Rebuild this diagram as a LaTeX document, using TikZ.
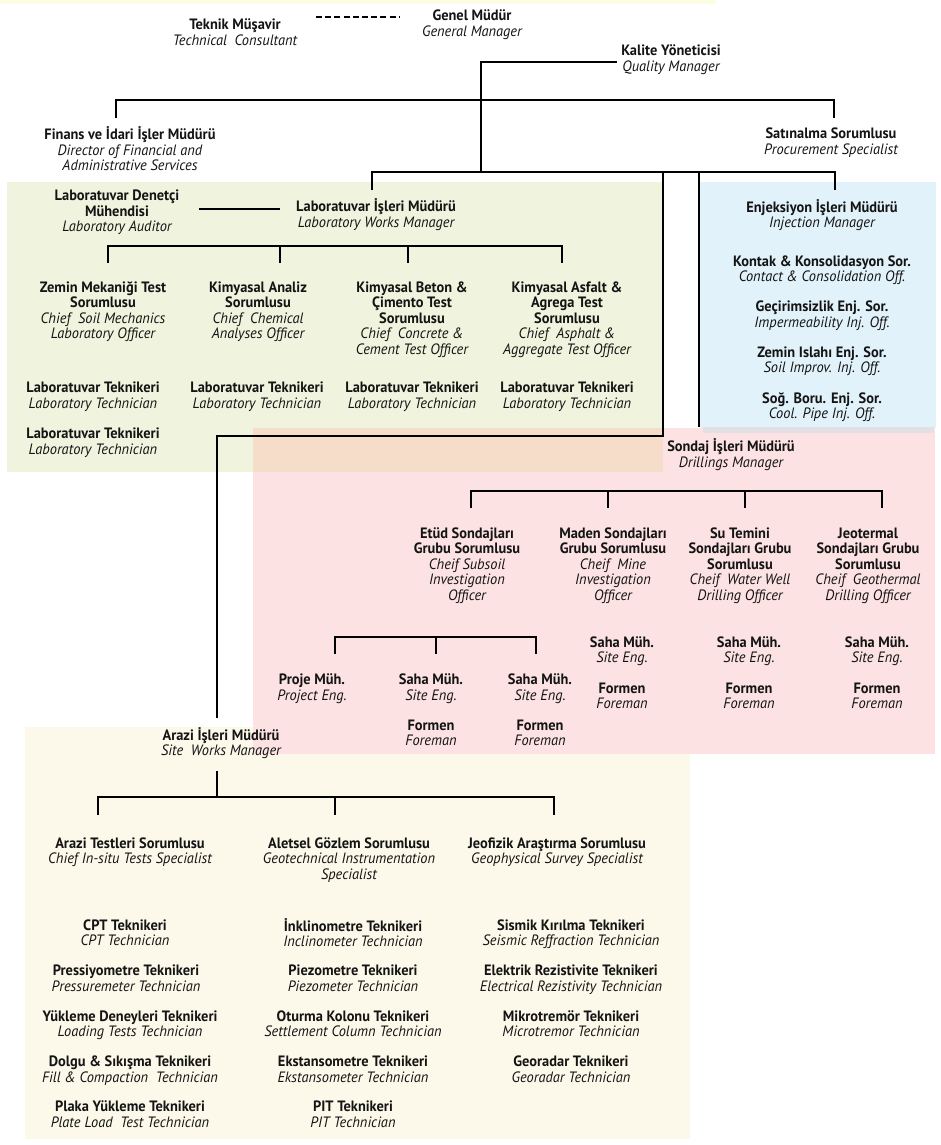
\documentclass[tikz,border=0pt]{standalone}
\usepackage{fontspec}
\setmainfont{PT Sans}[FakeStretch=0.96]
\definecolor{bgG}{RGB}{240,244,222}
\definecolor{bgB}{RGB}{226,242,250}
\definecolor{bgP}{RGB}{252,226,226}
\definecolor{bgO}{RGB}{246,221,202}
\definecolor{bgY}{RGB}{252,249,234}
\definecolor{bgT}{RGB}{253,252,228}
\definecolor{bgS}{RGB}{226,224,228}
\definecolor{ink}{RGB}{20,20,20}
\newcommand\trb{\bfseries\upshape}
\newcommand\eni{\mdseries\itshape}
\newcommand\topst{\rule{0pt}{21pt}}
\newcommand\botst{\rule[-4pt]{0pt}{4pt}}
\begin{document}
\begin{tikzpicture}[x=1pt,y=-1pt,
  role/.style={align=center,inner sep=0pt,text=ink,
    font=\fontsize{15}{15.5}\selectfont,
    execute at begin node=\topst, execute at end node=\botst},
  conn/.style={line width=2.4pt,draw=black},
  dashconn/.style={line width=2.2pt,draw=black,dash pattern=on 6pt off 3.2pt}]
\useasboundingbox (0,0) rectangle (940,1145);
% backgrounds
\fill[bgT] (0,0) rectangle (716,4);
\fill[bgG] (7,182) rectangle (663,472);
\fill[bgB] (700,182) rectangle (936,428);
\fill[bgY] (25,727) rectangle (690,1139);
\fill[bgP] (253,428) rectangle (935,754);
\fill[bgO] (253,428) rectangle (663,472);
\fill[bgS] (703,427) rectangle (934,433);

% top
\node[role] (tm) at (235,34) {\trb Teknik Müşavir\\\eni Technical\ \ Consultant};
\node[role] (gm) at (472,25) {\trb Genel Müdür\\\eni General Manager};
\node[role] (km) at (671,60) {\trb Kalite Yöneticisi\\\eni Quality Manager};
\node[role] (fin) at (130,151) {\trb Finans ve İdari İşler Müdürü\\\eni Director of Financial and\\\eni Administrative Services};
\node[role] (sat) at (831,143) {\trb Satınalma Sorumlusu\\\eni Procurement Specialist};

% laboratory
\node[role] (lad) at (117,213) {\trb Laboratuvar Denetçi\\\trb Mühendisi\\\eni Laboratory Auditor};
\node[role] (lim) at (376,215) {\trb Laboratuvar İşleri Müdürü\\\eni Laboratory Works Manager};
\node[role] (l1) at (103,312) {\trb Zemin Mekaniği Test\\\trb Sorumlusu\\\eni Chief\ \ Soil Mechanics\\\eni Laboratory Officer};
\node[role] (l2) at (258,312) {\trb Kimyasal Analiz\\\trb Sorumlusu\\\eni Chief\ \ Chemical\\\eni Analyses Officer};
\node[role] (l3) at (412,320) {\trb Kimyasal Beton \&\\\trb Çimento Test\\\trb Sorumlusu\\\eni Chief\ \ Concrete \&\\\eni Cement Test Officer};
\node[role] (l4) at (567,320) {\trb Kimyasal Asfalt \&\\\trb Agrega Test\\\trb Sorumlusu\\\eni Chief\ \ Asphalt \&\\\eni Aggregate Test Officer};
\node[role] (t1) at (93,397) {\trb Laboratuvar Teknikeri\\\eni Laboratory Technician};
\node[role] (t2) at (257,397) {\trb Laboratuvar Teknikeri\\\eni Laboratory Technician};
\node[role] (t3) at (412,397) {\trb Laboratuvar Teknikeri\\\eni Laboratory Technician};
\node[role] (t4) at (567,397) {\trb Laboratuvar Teknikeri\\\eni Laboratory Technician};
\node[role] (t5) at (93,443) {\trb Laboratuvar Teknikeri\\\eni Laboratory Technician};

% injection
\node[role] (enj) at (822,215.5) {\trb Enjeksiyon İşleri Müdürü\\\eni Injection Manager};
\node[role] (e1) at (822,270.5) {\trb Kontak \& Konsolidasyon Sor.\\\eni Contact \& Consolidation Off.};
\node[role] (e2) at (822,316) {\trb Geçirimsizlik Enj. Sor.\\\eni Impermeability Inj. Off.};
\node[role] (e3) at (822,361.5) {\trb Zemin Islahı Enj. Sor.\\\eni Soil Improv. Inj. Off.};
\node[role] (e4) at (822,407.5) {\trb Soğ. Boru. Enj. Sor.\\\eni Cool. Pipe Inj. Off.};

% drillings
\node[role] (snd) at (731,455) {\trb Sondaj İşleri Müdürü\\\eni Drillings Manager};
\node[role] (s1) at (467,566) {\trb Etüd Sondajları\\\trb Grubu Sorumlusu\\\eni Cheif Subsoil\\\eni Investigation\\\eni Officer};
\node[role] (s2) at (613,566) {\trb Maden Sondajları\\\trb Grubu Sorumlusu\\\eni Cheif\ \ Mine\\\eni Investigation\\\eni Officer};
\node[role] (s3) at (740,566) {\trb Su Temini\\\trb Sondajları Grubu\\\trb Sorumlusu\\\eni Cheif\ \ Water Well\\\eni Drilling Officer};
\node[role] (s4) at (868,566) {\trb Jeotermal\\\trb Sondajları Grubu\\\trb Sorumlusu\\\eni Cheif\ \ Geothermal\\\eni Drilling Officer};
\node[role] (pm) at (312,689) {\trb Proje Müh.\\\eni Project Eng.};
\node[role] (se1) at (431,689) {\trb Saha Müh.\\\eni Site Eng.};
\node[role] (fo1) at (431,734.5) {\trb Formen\\\eni Foreman};
\node[role] (se2) at (540,689) {\trb Saha Müh.\\\eni Site Eng.};
\node[role] (fo2) at (540,734.5) {\trb Formen\\\eni Foreman};
\node[role] (se3) at (622,651.5) {\trb Saha Müh.\\\eni Site Eng.};
\node[role] (fo3) at (622,697.5) {\trb Formen\\\eni Foreman};
\node[role] (se4) at (749,651.5) {\trb Saha Müh.\\\eni Site Eng.};
\node[role] (fo4) at (749,697.5) {\trb Formen\\\eni Foreman};
\node[role] (se5) at (877,651.5) {\trb Saha Müh.\\\eni Site Eng.};
\node[role] (fo5) at (877,697.5) {\trb Formen\\\eni Foreman};

% site works
\node[role] (arz) at (221,743.5) {\trb Arazi İşleri Müdürü\\\eni Site\ \ Works Manager};
\node[role] (a1) at (130,852.5) {\trb Arazi Testleri Sorumlusu\\\eni Chief In-situ Tests Specialist};
\node[role] (a2) at (349,860.5) {\trb Aletsel Gözlem Sorumlusu\\\eni Geotechnical Instrumentation\\\eni Specialist};
\node[role] (a3) at (557,852.5) {\trb Jeofizik Araştırma Sorumlusu\\\eni Geophysical Survey Specialist};

\node[role] (c11) at (125,934.5) {\trb CPT Teknikeri\\\eni CPT Technician};
\node[role] (c12) at (126,980) {\trb Pressiyometre Teknikeri\\\eni Pressuremeter Technician};
\node[role] (c13) at (130,1025.5) {\trb Yükleme Deneyleri Teknikeri\\\eni Loading Tests Technician};
\node[role] (c14) at (130,1071) {\trb Dolgu \& Sıkışma Teknikeri\\\eni Fill \& Compaction\ \ Technician};
\node[role] (c15) at (130,1116) {\trb Plaka Yükleme Teknikeri\\\eni Plate Load\ \ Test Technician};

\node[role] (c21) at (353,934.5) {\trb İnklinometre Teknikeri\\\eni Inclinometer Technician};
\node[role] (c22) at (353,980) {\trb Piezometre Teknikeri\\\eni Piezometer Technician};
\node[role] (c23) at (353,1025.5) {\trb Oturma Kolonu Teknikeri\\\eni Settlement Column Technician};
\node[role] (c24) at (353,1071) {\trb Ekstansometre Teknikeri\\\eni Ekstansometer Technician};
\node[role] (c25) at (353,1116) {\trb PIT Teknikeri\\\eni PIT Technician};

\node[role] (c31) at (571,934.5) {\trb Sismik Kırılma Teknikeri\\\eni Seismic Reffraction Technician};
\node[role] (c32) at (571,980) {\trb Elektrik Rezistivite Teknikeri\\\eni Electrical Rezistivity Technician};
\node[role] (c33) at (571,1025.5) {\trb Mikrotremör Teknikeri\\\eni Microtremor Technician};
\node[role] (c34) at (571,1071) {\trb Georadar Teknikeri\\\eni Georadar Technician};

% connector anchor points
\coordinate (dA) at (316,17);
\coordinate (dB) at (399,17);
\coordinate (kq) at (617,62);
\coordinate (trunk) at (481,62);
\coordinate (bus1) at (481,100);
\coordinate (bus2) at (481,172);
\coordinate (labA) at (199,209);
\coordinate (labB) at (280,209);

\draw[dashconn] (dA) -- (dB);
\draw[conn] (kq) -- (trunk) -- (bus2);
\draw[conn] (116,118) -- (116,100) -- (834,100) -- (834,118);
\draw[conn] (372,190) -- (372,172) -- (835,172) -- (835,190);
\draw[conn] (663,172) -- (663,436) -- (217,436) -- (217,718);
\draw[conn] (699,172) -- (699,427);
\draw[conn] (labA) -- (labB);
\draw[conn] (108,263) -- (108,246) -- (562,246) -- (562,263);
\draw[conn] (280,246) -- (280,263);
\draw[conn] (408,246) -- (408,263);
\draw[conn] (471,508) -- (471,491) -- (882,491) -- (882,508);
\draw[conn] (608,491) -- (608,508);
\draw[conn] (745,491) -- (745,508);
\draw[conn] (335,654) -- (335,637) -- (536,637) -- (536,654);
\draw[conn] (436,637) -- (436,654);
\draw[conn] (217,771) -- (217,797);
\draw[conn] (98,815) -- (98,797) -- (554,797) -- (554,815);
\draw[conn] (335,797) -- (335,815);
\end{tikzpicture}
\end{document}
